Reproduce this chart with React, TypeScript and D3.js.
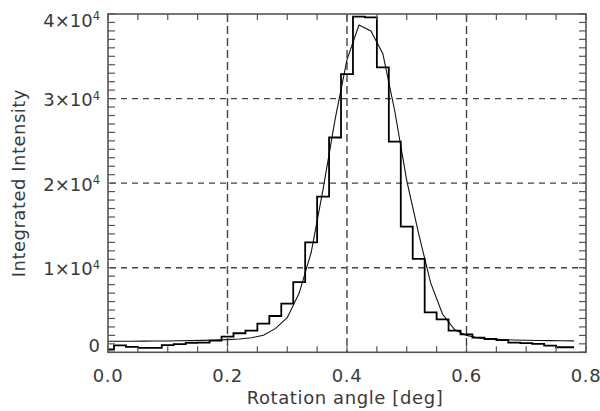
import React from "react";
import * as d3 from "d3";

// bin centres of the rotation-angle histogram [deg]
const angles = [
  0.0, 0.02, 0.04, 0.06, 0.08, 0.1, 0.12, 0.14, 0.16, 0.18,
  0.2, 0.22, 0.24, 0.26, 0.28, 0.3, 0.32, 0.34, 0.36, 0.38,
  0.4, 0.42, 0.44, 0.46, 0.48, 0.5, 0.52, 0.54, 0.56, 0.58,
  0.6, 0.62, 0.64, 0.66, 0.68, 0.7, 0.72, 0.74, 0.76, 0.78,
];

// measured integrated intensity per bin
const counts = [
  330, 820, 650, 520, 520, 850, 960, 1120, 1150, 1380,
  1850, 2250, 2560, 3390, 4290, 5750, 8300, 13000, 18400, 25400,
  32900, 39700, 39600, 33700, 24900, 14860, 11040, 4730, 3900, 2560,
  2130, 1730, 1570, 1450, 1140, 1080, 1000, 800, 600, 600,
];

// fitted profile evaluated at the same angles
const fitValues = [
  1300, 1300, 1310, 1320, 1330, 1340, 1360, 1380, 1410, 1450,
  1500, 1580, 1720, 2020, 2800, 4100, 7000, 11800, 19300, 27500,
  34600, 38700, 38000, 35300, 28500, 20300, 14000, 8200, 4500, 2700,
  2000, 1700, 1580, 1500, 1460, 1430, 1400, 1380, 1360, 1350,
];

const xTicks = [0.0, 0.2, 0.4, 0.6, 0.8];
const xTickLabels = ["0.0", "0.2", "0.4", "0.6", "0.8"];
const yTicks = [0, 10000, 20000, 30000, 40000];
const yTickMantissa = ["0", "1×10", "2×10", "3×10", "4×10"];
const yTickExponent = ["", "4", "4", "4", "4"];

const W = 600;
const H = 411;
const margin = { top: 14, right: 14, bottom: 58.7, left: 108 };
const innerW = W - margin.left - margin.right;
const innerH = H - margin.top - margin.bottom;

const axisColor = "#555";
const textColor = "#3a3a3a";
const font = "'DejaVu Sans', sans-serif";

const App = () => {
  const x = d3.scaleLinear().domain([0, 0.8]).range([0, innerW]);
  const y = d3.scaleLinear().domain([0, 40000]).range([innerH, 0]);

  const histLine = d3.line<number>()
    .x((_, i) => x(angles[i]))
    .y((d) => y(d))
    .curve(d3.curveStep);

  const fitLine = d3.line<number>()
    .x((_, i) => x(angles[i]))
    .y((d) => y(d));

  const xMinor = d3.range(0, 0.8001, 0.05);
  const yMinor = d3.range(0, 40001, 1000);

  // label baseline shifts, as placed by the original plotting package
  const yLabelDy = (i) => (i === 0 ? 0 : i === yTicks.length - 1 ? 12.7 : 7.5);

  return (
    <svg width={W} height={H} style={{ position: "absolute", left: 0, top: 0 }}>
      <rect width={W} height={H} fill="#fff" />
      <g transform={`translate(${margin.left},${margin.top})`}>
        {/* dashed grid */}
        {xTicks.slice(1, -1).map((t) => (
          <line key={"gx" + t} x1={x(t)} x2={x(t)} y1={0} y2={innerH}
            stroke="#444" strokeWidth={1.4} strokeDasharray="8,4" />
        ))}
        {yTicks.slice(1, -1).map((t) => (
          <line key={"gy" + t} x1={2} x2={innerW} y1={y(t)} y2={y(t)}
            stroke="#444" strokeWidth={1.4} strokeDasharray="6,5" />
        ))}

        {/* data */}
        <path d={fitLine(fitValues) || ""} fill="none" stroke="#111" strokeWidth={1.1} />
        <path d={histLine(counts) || ""} fill="none" stroke="#000" strokeWidth={1.8} />

        {/* minor ticks */}
        {xMinor.map((t) => (
          <g key={"tx" + t}>
            <line x1={x(t)} x2={x(t)} y1={innerH} y2={innerH - 6} stroke={axisColor} strokeWidth={1.2} />
            <line x1={x(t)} x2={x(t)} y1={0} y2={6} stroke={axisColor} strokeWidth={1.2} />
          </g>
        ))}
        {yMinor.map((t) => (
          <g key={"ty" + t}>
            <line x1={0} x2={7} y1={y(t)} y2={y(t)} stroke={axisColor} strokeWidth={1.2} />
            <line x1={innerW} x2={innerW - 7} y1={y(t)} y2={y(t)} stroke={axisColor} strokeWidth={1.2} />
          </g>
        ))}

        {/* frame */}
        <rect x={0} y={0} width={innerW} height={innerH} fill="none" stroke={axisColor} strokeWidth={1.6} />

        {/* tick labels */}
        {xTicks.map((t, i) => (
          <text key={"lx" + t} x={x(t)} y={innerH + 29.4} textAnchor="middle"
            fontFamily={font} fontSize={18} fill={textColor} letterSpacing={0.6}>
            {xTickLabels[i]}
          </text>
        ))}
        {yTicks.map((t, i) => (
          <text key={"ly" + t} x={-8} y={y(t) + yLabelDy(i)} textAnchor="end"
            fontFamily={font} fontSize={18} fill={textColor}>
            {yTickMantissa[i]}
            {yTickExponent[i] && (
              <tspan fontSize={11.5} dy={-6.5}>{yTickExponent[i]}</tspan>
            )}
          </text>
        ))}
      </g>

      {/* axis titles */}
      <text x={margin.left + innerW / 2 - 2} y={404.3} textAnchor="middle"
        fontFamily={font} fontSize={18} fill={textColor} letterSpacing={0.6}>
        Rotation angle [deg]
      </text>
      <text transform={`translate(25,${margin.top + innerH / 2}) rotate(-90)`} textAnchor="middle"
        fontFamily={font} fontSize={18} fill={textColor} letterSpacing={0.5}>
        Integrated Intensity
      </text>
    </svg>
  );
};

export default App;
